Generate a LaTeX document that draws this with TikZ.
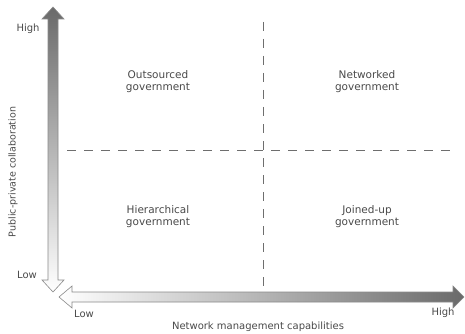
\documentclass[tikz,border=0pt]{standalone}
\usepackage{fontspec}
\setmainfont{DejaVu Sans}
\definecolor{txt}{HTML}{4A4A4A}
\definecolor{dash}{HTML}{6E6E6E}
\definecolor{arrdark}{HTML}{6A6A6A}
\definecolor{arredge}{HTML}{8A8A8A}
\begin{document}
\begin{tikzpicture}[x=1pt,y=-1pt,
  lbl/.style={text=txt,font=\fontsize{10.5}{12}\selectfont,align=center,inner sep=0pt},
  ax/.style={text=txt,font=\fontsize{10}{12}\selectfont,inner sep=0pt},
  divider/.style={draw=dash,line width=0.9pt,dash pattern=on 9pt off 8pt},
  bigarrow/.style={draw=arredge,line width=0.6pt,line join=miter}]
\useasboundingbox[fill=white] (0,0) rectangle (465,334);
% vertical axis arrow
\path[bigarrow,top color=arrdark,bottom color=white]
  (53,7) -- (64,19) -- (58,19) -- (58,280) -- (64,280) -- (53,292)
  -- (42,280) -- (48,280) -- (48,19) -- (42,19) -- cycle;
% horizontal axis arrow
\path[bigarrow,left color=white,right color=arrdark]
  (59,297) -- (72,286) -- (72,292) -- (453,292) -- (453,286) -- (464,297)
  -- (453,308) -- (453,302) -- (72,302) -- (72,308) -- cycle;
% dividers
\coordinate (vt) at (263,22);
\coordinate (vb) at (263,290);
\coordinate (hl) at (67,150);
\coordinate (hr) at (451,150);
\draw[divider] (vt) -- (vb);
\draw[divider] (hl) -- (hr);
% quadrant labels
\node[lbl] (q1) at (158,82) {Outsourced\\government};
\node[lbl] (q2) at (367,82) {Networked\\government};
\node[lbl] (q3) at (158,217) {Hierarchical\\government};
\node[lbl] (q4) at (367,217) {Joined-up\\government};
% axis labels
\node[ax] (yhigh) at (28,29) {High};
\node[ax] (ylow) at (27,275) {Low};
\node[ax] (xlow) at (84,314) {Low};
\node[ax] (xhigh) at (443,313) {High};
\node[ax] (xlab) at (258,327) {Network management capabilities};
\node[ax,rotate=90,font=\fontsize{9.5}{11}\selectfont] (ylab) at (13,172) {Public-private collaboration};
\end{tikzpicture}
\end{document}
